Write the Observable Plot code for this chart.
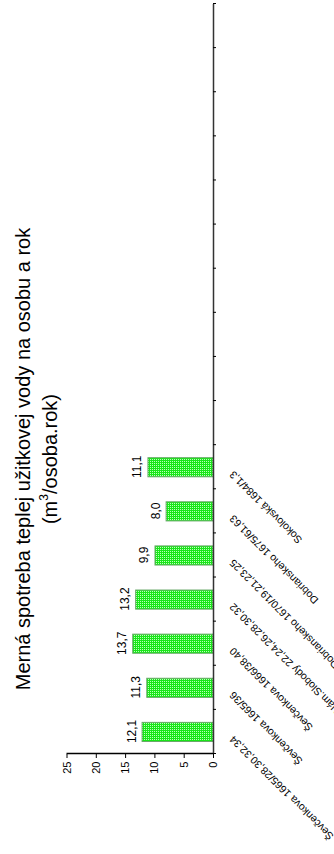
<!DOCTYPE html>
<html>
<head>
<meta charset="utf-8">
<script src="https://cdn.jsdelivr.net/npm/d3@7"></script>
<script src="https://cdn.jsdelivr.net/npm/@observablehq/plot@0.6"></script>
<style>
  html, body { margin: 0; padding: 0; background: #fff; overflow: hidden; }
  body { width: 334px; height: 854px; position: relative; }
  #wrap {
    position: absolute; left: 0; top: 0; width: 854px; height: 334px;
    transform-origin: 0 0; transform: translate(0px, 854px) rotate(-90deg);
    font-family: "Liberation Sans", Arial, sans-serif;
  }
  #title {
    position: absolute; left: 0; top: 10px; width: 790px;
    text-align: center; font-size: 20px; line-height: 27px; color: #000;
    z-index: 2;
  }
  #title sup { font-size: 12px; vertical-align: 9px; line-height: 0; }
  #chart { position: absolute; left: 0; top: 0; }
</style>
</head>
<body>
<div id="wrap">
  <div id="title">Merná spotreba teplej užitkovej vody na osobu a rok<br>(m<sup>3</sup>/osoba.rok)</div>
  <div id="chart"></div>
</div>
<script>
// Data
const categories = [
  "Ševčenkova 1665/28,30,32,34",
  "Ševčenkova 1665/36",
  "Ševčenkova 1666/38,40",
  "Nám.Slobody 22,24,26,28,30,32",
  "Dobrianskeho 1670/19,21,23,25",
  "Dobrianskeho 1675/61,63",
  "Sokolovská 1684/1,3"
];
const values = [12.1, 11.3, 13.7, 13.2, 9.9, 8.0, 11.1];
const valueTicks = [0, 5, 10, 15, 20, 25];
const categorySlots = 17; // axis has 17 slots, only the first 7 used

const data = categories.map((c, i) => ({category: c, value: values[i], i}));
const slotEdges = d3.range(categorySlots + 1);
const fmt = v => v.toFixed(1).replace(".", ",");

const chart = Plot.plot({
  width: 854,
  height: 334,
  marginLeft: 100,
  marginRight: 4,
  marginTop: 66.5,
  marginBottom: 121,
  x: {type: "linear", domain: [0, categorySlots], axis: null},
  y: {domain: [0, 25], axis: null},
  style: {fontFamily: "Liberation Sans, Arial, sans-serif", background: "transparent", color: "#000"},
  marks: [
    Plot.rectY(data, {
      x1: "i", x2: d => d.i + 1, y1: 0, y2: "value",
      insetLeft: 12.5, insetRight: 12.5,
      fill: "url(#dots)", stroke: "#6aa86a", strokeWidth: 1
    }),
    Plot.ruleY([0], {x1: 0, x2: categorySlots, stroke: "#333", strokeWidth: 1.5}),
    Plot.ruleX([0], {y1: 0, y2: 25, stroke: "#000", strokeWidth: 1.5}),
    Plot.axisY({ticks: valueTicks, anchor: "left", label: null, tickSize: 4, tickPadding: 4, fontSize: 11, tickFormat: d => String(d)}),
    Plot.axisX({ticks: slotEdges, anchor: "bottom", label: null, tickSize: 3, tickFormat: () => ""}),
    Plot.text(data, {
      x: d => d.i + 0.5, y: "value", text: d => fmt(d.value),
      lineAnchor: "bottom", dy: -7, fontSize: 12, fill: "#000"
    }),
    Plot.text(data, {
      x: d => d.i + 0.5, y: 0, text: "category",
      rotate: -45, textAnchor: "end", lineAnchor: "middle",
      dx: -6, dy: 18, fontSize: 10.5, fill: "#000"
    })
  ]
});

// dotted green fill pattern
const ns = "http://www.w3.org/2000/svg";
const defs = document.createElementNS(ns, "defs");
defs.innerHTML = `<pattern id="dots" width="2" height="2" patternUnits="userSpaceOnUse">
  <rect width="2" height="2" fill="#19e619"></rect>
  <rect x="0" y="0" width="1" height="1" fill="#b9ffb9"></rect>
</pattern>`;
chart.insertBefore(defs, chart.firstChild);

document.getElementById("chart").appendChild(chart);
</script>
</body>
</html>
